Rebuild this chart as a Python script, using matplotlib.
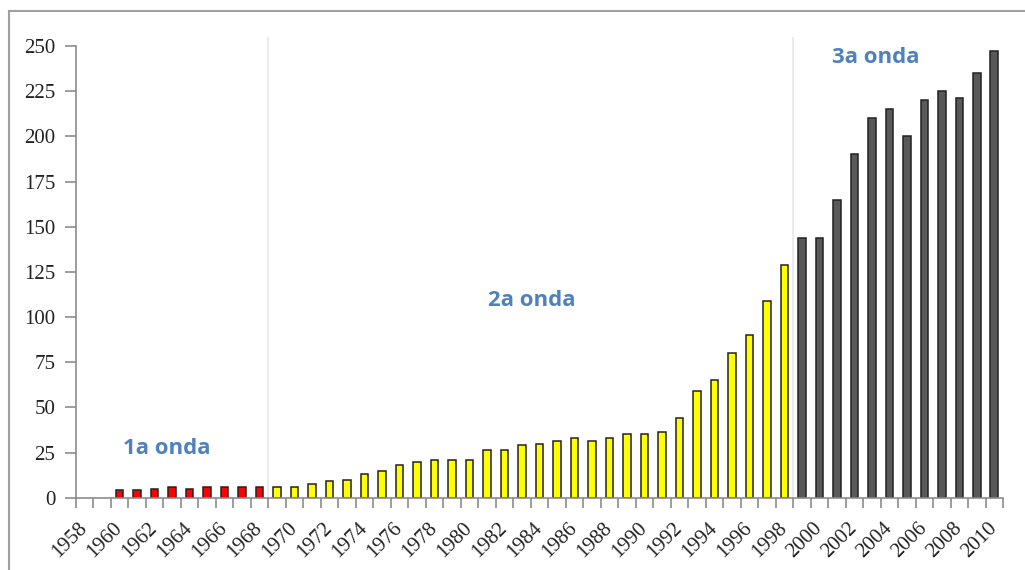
import matplotlib
matplotlib.use("Agg")
import matplotlib.pyplot as plt
from matplotlib.lines import Line2D
import numpy as np

years = list(range(1958, 2011))
values = [0, 0, 4, 4, 5, 6, 5, 6, 6, 6, 6,
          6, 6, 7.5, 9, 10, 13, 15, 18, 20, 21, 21, 21, 26.5, 26.5, 29, 30,
          31.5, 33, 31.5, 33, 35, 35, 36.5, 44, 59, 65, 80, 90, 109, 129,
          144, 144, 165, 190, 210, 215, 200, 220, 225, 221, 235, 247]
wave_labels = ["1a onda", "2a onda", "3a onda"]
wave_starts = [1958, 1969, 1999]
wave_colors = ["#FF0000", "#FFFF00", "#595959"]
tick_labels = [str(y) if (y - 1958) % 2 == 0 else "" for y in years]
y_ticks = [0, 25, 50, 75, 100, 125, 150, 175, 200, 225, 250]

def color_for(y):
    c = wave_colors[0]
    for s, col in zip(wave_starts, wave_colors):
        if y >= s:
            c = col
    return c

fig = plt.figure(figsize=(10.25, 5.7), dpi=100)
ax = fig.add_axes([76/1025, 1 - 497.7/570, (1003-76)/1025, (497.7-37)/570])

x = np.arange(len(years))
colors = [color_for(y) for y in years]
lws = [1.1 if v > 0 else 0 for v in values]
ax.bar(x, values, width=0.43, color=colors, edgecolor="#222222", linewidth=lws, zorder=3)

ax.set_xlim(-0.5, len(years) - 0.5)
ax.set_ylim(0, 255)

# separators
for s in wave_starts[1:]:
    ax.axvline(years.index(s) - 0.5, color="#ebebeb", linewidth=1.5, zorder=1)

ax.spines["top"].set_visible(False)
ax.spines["right"].set_visible(False)
ax.spines["left"].set_color("#8c8c8c")
ax.spines["bottom"].set_color("#8c8c8c")
ax.spines["left"].set_bounds(0, 250)
ax.spines["left"].set_linewidth(1.2)
ax.spines["bottom"].set_linewidth(1.2)
ax.spines["bottom"].set_zorder(4)

serif = ["Liberation Serif", "DejaVu Serif"]
ax.set_yticks(y_ticks)
ax.set_yticklabels([str(v) for v in y_ticks], fontsize=15, family=serif, color="#222222")
ax.tick_params(axis="y", direction="out", length=8, width=1.2, color="#8c8c8c", pad=7)

ax.set_xticks(x)
ax.set_xticklabels(tick_labels, rotation=45, ha="right", va="center",
                   rotation_mode="anchor", fontsize=15, family=serif, color="#222222")
ax.tick_params(axis="x", which="major", length=0, pad=20)
ax.set_xticks(np.arange(len(years) + 1) - 0.5, minor=True)
ax.tick_params(axis="x", which="minor", direction="out", length=7, width=1.2, color="#8c8c8c")

sans = ["Open Sans", "DejaVu Sans"]
txt_pos = [(1962.67, 27.5), (1983.56, 109.3), (2003.2, 243.4)]
for lab, (yx, yy) in zip(wave_labels, txt_pos):
    ax.text(yx - 1958, yy, lab, fontsize=16, fontweight="bold",
            family=sans, color="#4F81BD", ha="center", va="center", zorder=4)

# outer frame (top and left)
fig.add_artist(Line2D([9/1025, 1], [1 - 11/570, 1 - 11/570], color="#a0a0a0", linewidth=1.5))
fig.add_artist(Line2D([9/1025, 9/1025], [0, 1 - 11/570], color="#a0a0a0", linewidth=1.5))

fig.savefig("out.png", dpi=100, facecolor="white")
